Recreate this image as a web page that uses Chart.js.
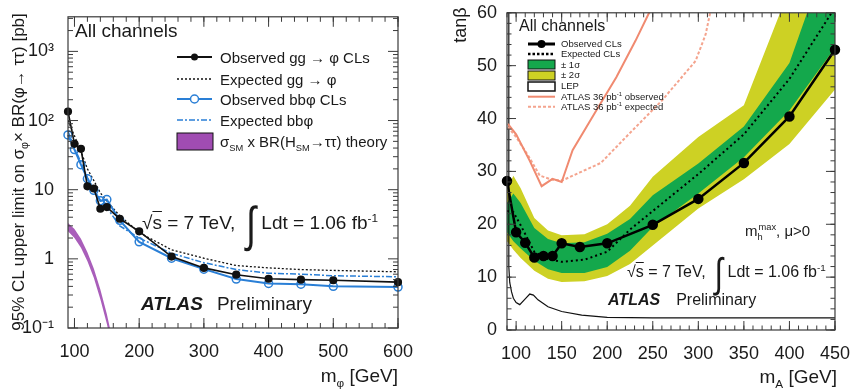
<!DOCTYPE html>
<html>
<head>
<meta charset="utf-8">
<script src="https://cdn.jsdelivr.net/npm/chart.js@4.4.0/dist/chart.umd.min.js"></script>
<style>
  html, body { margin: 0; padding: 0; background: #fff; }
  #wrap { position: relative; width: 855px; height: 389px; overflow: hidden;
          font-family: "Liberation Sans", Arial, sans-serif; color: #1a1a1a; }
  canvas { position: absolute; top: 0; }
  svg { position: absolute; left: 0; top: 0; }
  .t { position: absolute; white-space: nowrap; line-height: 1; }
  .t sub, .t sup { font-size: 0.62em; line-height: 0; }
  .rot { transform: translate(-50%, -50%) rotate(-90deg); }
  .int { display: inline-block; font-size: 1.9em; transform: scaleY(1.35); vertical-align: -0.22em; margin: 0 0.15em; font-family: "DejaVu Sans", sans-serif; font-weight: 200; }
</style>
</head>
<body>
<div id="wrap">
  <canvas id="left" width="430" height="389" style="left:0"></canvas>
  <canvas id="right" width="425" height="389" style="left:430px"></canvas>

  <svg width="855" height="389">
    <!-- left legend keys -->
    <line x1="177" y1="57" x2="212" y2="57" stroke="#111" stroke-width="2"/>
    <circle cx="194.5" cy="57" r="3.5" fill="#111"/>
    <line x1="177" y1="79" x2="212" y2="79" stroke="#111" stroke-width="1.3" stroke-dasharray="2 2"/>
    <line x1="177" y1="99" x2="212" y2="99" stroke="#2a7fd6" stroke-width="2"/>
    <circle cx="194.5" cy="99" r="4" fill="#fff" stroke="#2a7fd6" stroke-width="1.5"/>
    <line x1="177" y1="120" x2="212" y2="120" stroke="#2a7fd6" stroke-width="1.5" stroke-dasharray="6 2 2 2"/>
    <rect x="177" y="133" width="36" height="17" fill="#a04cb2" stroke="#111" stroke-width="1"/>
    <!-- right legend keys -->
    <line x1="528" y1="44" x2="555" y2="44" stroke="#000" stroke-width="3"/>
    <circle cx="541.5" cy="44" r="4" fill="#000"/>
    <line x1="528" y1="54" x2="555" y2="54" stroke="#000" stroke-width="2.5" stroke-dasharray="2.5 2"/>
    <rect x="528" y="60" width="27" height="9" fill="#14a84c" stroke="#111" stroke-width="1"/>
    <rect x="528" y="71" width="27" height="9" fill="#cdd124" stroke="#111" stroke-width="1"/>
    <rect x="528" y="82" width="27" height="9" fill="#fff" stroke="#111" stroke-width="1.5"/>
    <line x1="528" y1="96.7" x2="555" y2="96.7" stroke="#f08a70" stroke-width="2"/>
    <line x1="528" y1="106.7" x2="555" y2="106.7" stroke="#f4a48e" stroke-width="2" stroke-dasharray="3 2"/>
  </svg>

  <!-- left panel texts -->
  <div class="t rot" style="left:18px; top:172px; font-size:17px;">95% CL upper limit on σ<sub>φ</sub>× BR(φ→ ττ) [pb]</div>
  <div class="t" style="right:457px; top:366px; font-size:19px;">m<sub>φ</sub> [GeV]</div>
  <div class="t" style="left:75px; top:20.5px; font-size:19px;">All channels</div>
  <div class="t" style="left:220px; top:49.6px; font-size:15px;">Observed gg → φ CLs</div>
  <div class="t" style="left:220px; top:71.6px; font-size:15px;">Expected gg → φ</div>
  <div class="t" style="left:220px; top:91.6px; font-size:15px;">Observed bbφ CLs</div>
  <div class="t" style="left:220px; top:112.6px; font-size:15px;">Expected bbφ</div>
  <div class="t" style="left:220px; top:133.6px; font-size:15px;">σ<sub>SM</sub> x BR(H<sub>SM</sub>→ττ) theory</div>
  <div class="t" style="left:142px; top:207px; font-size:19px;">√<span style="text-decoration:overline">s</span> = 7 TeV, <span class="int">∫</span>Ldt = 1.06 fb<sup>-1</sup></div>
  <div class="t" style="left:141px; top:294px; font-size:19px;"><b><i>ATLAS</i></b><span style="margin-left:14px">Preliminary</span></div>

  <!-- right panel texts -->
  <div class="t rot" style="left:460px; top:25px; font-size:18px;">tanβ</div>
  <div class="t" style="right:18px; top:367px; font-size:19px;">m<sub>A</sub> [GeV]</div>
  <div class="t" style="left:519px; top:18px; font-size:16px;">All channels</div>
  <div class="t" style="left:561px; top:39.3px; font-size:9.5px;">Observed CLs</div>
  <div class="t" style="left:561px; top:49.3px; font-size:9.5px;">Expected CLs</div>
  <div class="t" style="left:561px; top:59.6px; font-size:9.5px;">± 1σ</div>
  <div class="t" style="left:561px; top:70.3px; font-size:9.5px;">± 2σ</div>
  <div class="t" style="left:561px; top:81.3px; font-size:9.5px;">LEP</div>
  <div class="t" style="left:561px; top:92px; font-size:9.5px;">ATLAS 36 pb<sup>-1</sup> observed</div>
  <div class="t" style="left:561px; top:102px; font-size:9.5px;">ATLAS 36 pb<sup>-1</sup> expected</div>
  <div class="t" style="left:745px; top:223px; font-size:15px;">m<sub>h</sub><sup style="margin-left:-0.45em">max</sup>, μ&gt;0</div>
  <div class="t" style="left:627px; top:259px; font-size:16px;">√<span style="text-decoration:overline">s</span> = 7 TeV, <span class="int">∫</span>Ldt = 1.06 fb<sup>-1</sup></div>
  <div class="t" style="left:608px; top:292px; font-size:16px;"><b><i>ATLAS</i></b><span style="margin-left:16px">Preliminary</span></div>
</div>

<script>
// ---- left panel: cross-section limits ----
const massPhi = [90, 100, 110, 120, 130, 140, 150, 170, 200, 250, 300, 350, 400, 450, 500, 600];
const obsGG = [135, 46, 39, 11.2, 10.4, 5.3, 5.6, 3.8, 2.5, 1.08, 0.74, 0.59, 0.515, 0.5, 0.49, 0.46];
const expGG = [100, 60, 36, 20, 13.5, 9, 6.8, 4.2, 2.4, 1.35, 1.02, 0.8, 0.74, 0.7, 0.68, 0.65];
const obsBB = [62, 38, 23, 14.4, 9.8, 6.9, 7.2, 3.6, 1.76, 1.02, 0.71, 0.51, 0.44, 0.43, 0.40, 0.39];
const expBB = [70, 40, 25, 15, 10, 7, 5.5, 3.0, 2.0, 1.2, 0.88, 0.7, 0.62, 0.6, 0.57, 0.55];

const massTheory = [90, 100, 110, 120, 130, 140, 150, 160];
const theoryHi = [3.3, 2.7, 1.95, 1.25, 0.72, 0.36, 0.16, 0.06];
const theoryLo = [2.5, 2.0, 1.45, 0.92, 0.53, 0.26, 0.115, 0.045];

const leftXTicks = [100, 200, 300, 400, 500, 600];
const leftYTicks = [0.1, 1, 10, 100, 1000];
const leftYTickLabels = ['10⁻¹', '1', '10', '10²', '10³'];

// ---- right panel: tan(beta) exclusion ----
const massA = [90, 100, 110, 120, 130, 140, 150, 170, 200, 250, 300, 350, 400, 450];
const obsTanb = [28.2, 18.5, 16.5, 13.7, 14.0, 14.0, 16.4, 15.7, 16.4, 19.9, 24.8, 31.6, 40.4, 53];

const bandMass = [90, 97, 105, 120, 135, 150, 175, 200, 225, 250, 300, 350, 400, 450];
const expTanb  = [22.5, 22.3, 19.8, 14.8, 13.4, 12.9, 13.3, 14.8, 19, 22.5, 29.5, 37, 47.5, 61];
const yellowHi = [26.5, 29.2, 26.8, 21.2, 18.8, 17.9, 18.1, 20.0, 23.5, 29, 36.5, 42.5, 64.5, 85];
const greenHi  = [24, 25.8, 24.0, 19.3, 17.2, 16.4, 16.6, 18.2, 21, 25.5, 31.5, 38.5, 50.5, 75];
const greenLo  = [18.5, 16.8, 15.4, 13.1, 11.5, 10.8, 10.8, 11.9, 15, 19.5, 25.8, 32.7, 41.5, 53.4];
const yellowLo = [16.8, 15.2, 13.6, 11.2, 9.7, 9.1, 9.2, 10.2, 12.5, 16, 23, 28.5, 35.2, 45.5];

const lepMass = [92, 92, 93, 95, 97, 100, 104, 110, 115, 119, 124, 135, 150, 172, 200, 250, 450];
const lepTanb = [62, 12, 9, 7.2, 6.0, 5.2, 4.8, 5.9, 6.8, 6.6, 5.7, 4.4, 3.5, 2.8, 2.4, 2.3, 2.3];

const atlasObsMass = [91, 100, 115, 128, 140, 150, 162, 188, 210, 231, 246, 255];
const atlasObsTanb = [39, 37, 32, 27.2, 28.6, 28, 34, 41.5, 47.8, 54.7, 60, 63];
const atlasExpMass = [91, 100, 115, 126, 140, 151, 170, 193, 224, 260, 297, 308, 313, 320];
const atlasExpTanb = [38.4, 36.5, 32.5, 29.2, 28.4, 28.3, 29.8, 31.6, 37.1, 43.4, 50.9, 55.9, 60, 64];

const rightXTicks = [100, 150, 200, 250, 300, 350, 400, 450];
const rightYTicks = [0, 10, 20, 30, 40, 50, 60];

const FONT = '"Liberation Sans", Arial, sans-serif';
const BLUE = '#2a7fd6';
const pts = (xs, ys) => xs.map((x, i) => ({ x: x, y: ys[i] }));
const range = (a, b, step) => { const r = []; for (let v = a; v <= b + 1e-9; v += step) r.push(v); return r; };

// frame box with ROOT-style inward ticks on all four sides
const frameTicks = {
  id: 'frameTicks',
  afterDraw(chart, args, o) {
    const { ctx, chartArea: a, scales } = chart;
    const x = scales.x, y = scales.y;
    ctx.save();
    ctx.strokeStyle = '#3a3a3a';
    ctx.lineWidth = 1.2;
    ctx.strokeRect(a.left, a.top, a.right - a.left, a.bottom - a.top);
    ctx.beginPath();
    const xt = (v, len) => {
      const px = x.getPixelForValue(v);
      if (px < a.left - 0.5 || px > a.right + 0.5) return;
      ctx.moveTo(px, a.bottom); ctx.lineTo(px, a.bottom - len);
      ctx.moveTo(px, a.top); ctx.lineTo(px, a.top + len);
    };
    const yt = (v, len) => {
      const py = y.getPixelForValue(v);
      if (py < a.top - 0.5 || py > a.bottom + 0.5) return;
      ctx.moveTo(a.left, py); ctx.lineTo(a.left + len, py);
      ctx.moveTo(a.right, py); ctx.lineTo(a.right - len, py);
    };
    o.xMinor.forEach(v => xt(v, o.minor));
    o.xMajor.forEach(v => xt(v, o.major));
    o.yMinor.forEach(v => yt(v, o.minor));
    o.yMajor.forEach(v => yt(v, o.major));
    ctx.lineWidth = 1;
    ctx.stroke();
    ctx.restore();
  }
};

const logMinor = [];
[0.1, 1, 10, 100, 1000].forEach(d => { for (let k = 2; k <= 9; k++) logMinor.push(d * k); });

const tickFont = { family: FONT, size: 18 };

new Chart(document.getElementById('left'), {
  type: 'line',
  data: {
    datasets: [
      { data: pts(massTheory, theoryHi), fill: 1, backgroundColor: 'rgba(160,76,178,0.9)', borderWidth: 0, pointRadius: 0, order: 10 },
      { data: pts(massTheory, theoryLo), fill: false, borderWidth: 0, pointRadius: 0, order: 11 },
      { data: pts(massPhi, expGG), borderColor: '#111', borderWidth: 1.3, borderDash: [2, 2], pointRadius: 0, order: 5 },
      { data: pts(massPhi, expBB), borderColor: BLUE, borderWidth: 1.5, borderDash: [6, 2, 2, 2], pointRadius: 0, order: 4 },
      { data: pts(massPhi, obsBB), borderColor: BLUE, borderWidth: 2, pointRadius: 4, pointBorderWidth: 1.5,
        pointBorderColor: BLUE, pointBackgroundColor: 'rgba(255,255,255,0)', order: 3, clip: { left: 6, right: 6, top: 0, bottom: 0 } },
      { data: pts(massPhi, obsGG), borderColor: '#111', borderWidth: 1.6, pointRadius: 3.3,
        pointBackgroundColor: '#111', pointBorderColor: '#111', order: 2, clip: { left: 6, right: 6, top: 0, bottom: 0 } }
    ]
  },
  options: {
    responsive: false,
    animation: false,
    layout: { padding: { left: 0, top: 12, right: 32, bottom: 0 } },
    elements: { line: { tension: 0 } },
    scales: {
      x: {
        type: 'linear', min: 90, max: 600,
        grid: { display: false }, border: { display: false },
        ticks: { font: tickFont, color: '#1a1a1a', padding: 5, maxRotation: 0, autoSkip: false },
        afterBuildTicks: s => { s.ticks = leftXTicks.map(v => ({ value: v })); },
        afterFit: s => { s.height = 61; }
      },
      y: {
        type: 'logarithmic', min: 0.1, max: 3162,
        grid: { display: false }, border: { display: false },
        ticks: { font: tickFont, color: '#1a1a1a', padding: 6, autoSkip: false,
          callback: v => { const i = leftYTicks.indexOf(v); return i >= 0 ? leftYTickLabels[i] : ''; } },
        afterBuildTicks: s => { s.ticks = leftYTicks.map(v => ({ value: v })); },
        afterFit: s => { s.width = 68; }
      }
    },
    plugins: {
      legend: { display: false },
      tooltip: { enabled: false },
      frameTicks: { xMajor: leftXTicks, xMinor: range(100, 600, 20), yMajor: leftYTicks, yMinor: logMinor, major: 10, minor: 5 }
    }
  },
  plugins: [frameTicks]
});

new Chart(document.getElementById('right'), {
  type: 'line',
  data: {
    datasets: [
      { data: pts(bandMass, yellowHi), fill: 1, backgroundColor: '#cdd124', borderWidth: 0, pointRadius: 0, order: 20 },
      { data: pts(bandMass, yellowLo), fill: false, borderWidth: 0, pointRadius: 0, order: 21 },
      { data: pts(bandMass, greenHi), fill: 3, backgroundColor: '#14a84c', borderWidth: 0, pointRadius: 0, order: 18 },
      { data: pts(bandMass, greenLo), fill: false, borderWidth: 0, pointRadius: 0, order: 19 },
      { data: pts(lepMass, lepTanb), borderColor: '#111', borderWidth: 1.2, pointRadius: 0, order: 10 },
      { data: pts(atlasExpMass, atlasExpTanb), borderColor: '#f4a48e', borderWidth: 2, borderDash: [3, 2], pointRadius: 0, order: 9 },
      { data: pts(atlasObsMass, atlasObsTanb), borderColor: '#f08a70', borderWidth: 2, pointRadius: 0, order: 8 },
      { data: pts(bandMass, expTanb), borderColor: '#000', borderWidth: 2, borderDash: [2, 3], pointRadius: 0, order: 5 },
      { data: pts(massA, obsTanb), borderColor: '#000', borderWidth: 2.5, pointRadius: 4,
        pointBackgroundColor: '#000', pointBorderColor: '#000', order: 1, clip: { left: 6, right: 6, top: 0, bottom: 0 } }
    ]
  },
  options: {
    responsive: false,
    animation: false,
    layout: { padding: { left: 0, top: 12, right: 18, bottom: 0 } },
    elements: { line: { tension: 0 } },
    scales: {
      x: {
        type: 'linear', min: 90, max: 450,
        grid: { display: false }, border: { display: false },
        ticks: { font: tickFont, color: '#1a1a1a', padding: 5, maxRotation: 0, autoSkip: false },
        afterBuildTicks: s => { s.ticks = rightXTicks.map(v => ({ value: v })); },
        afterFit: s => { s.height = 59; }
      },
      y: {
        type: 'linear', min: 0, max: 60,
        grid: { display: false }, border: { display: false },
        ticks: { font: tickFont, color: '#1a1a1a', padding: 2, autoSkip: false },
        afterBuildTicks: s => { s.ticks = rightYTicks.map(v => ({ value: v })); },
        afterFit: s => { s.width = 77; }
      }
    },
    plugins: {
      legend: { display: false },
      tooltip: { enabled: false },
      frameTicks: { xMajor: rightXTicks, xMinor: range(90, 450, 10), yMajor: rightYTicks, yMinor: range(0, 60, 2), major: 9, minor: 4.5 }
    }
  },
  plugins: [frameTicks]
});
</script>
</body>
</html>
